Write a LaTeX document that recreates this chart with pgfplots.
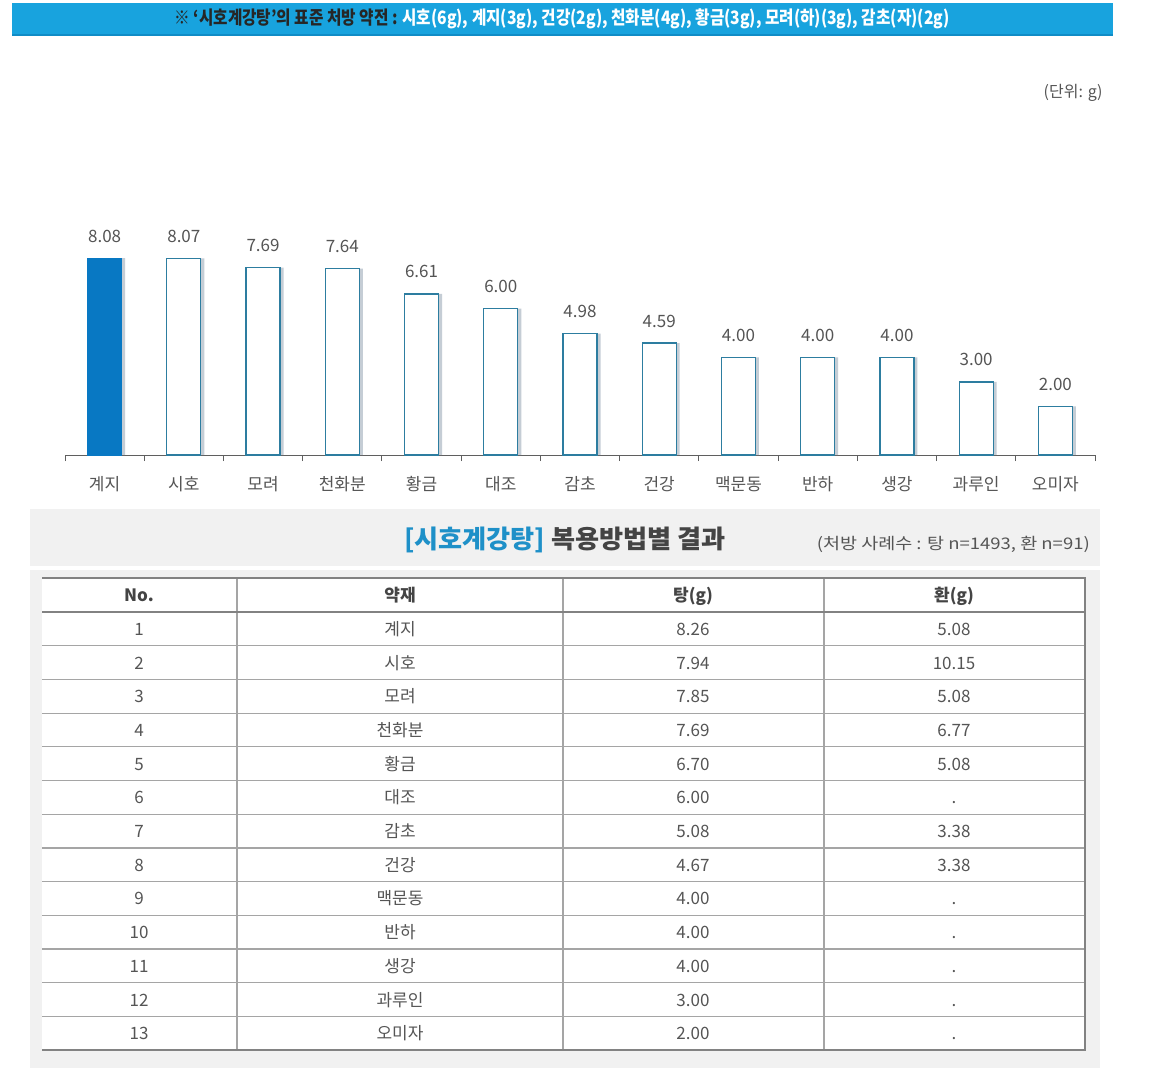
\documentclass[border=0pt]{standalone}
\usepackage{fontspec}
\setmainfont{Noto Sans CJK KR}
\usepackage{graphicx}
\usepackage{pgfplots}
\pgfplotsset{compat=1.18}

\definecolor{banner}{RGB}{24,163,222}
\definecolor{bannerdark}{RGB}{16,140,198}
\definecolor{bluebar}{RGB}{8,120,195}
\definecolor{bardraw}{RGB}{45,125,160}
\definecolor{shadow}{RGB}{150,165,180}
\definecolor{txt}{RGB}{85,85,85}
\definecolor{txtdark}{RGB}{68,68,68}
\definecolor{axisgray}{RGB}{95,95,95}
\definecolor{titleblue}{RGB}{30,144,200}
\definecolor{bggray}{RGB}{241,241,241}
\definecolor{linegray}{RGB}{130,130,130}
\definecolor{rowgray}{RGB}{165,165,165}

\begin{document}
\begin{tikzpicture}[x=1pt,y=1pt]
\path[use as bounding box, fill=white] (0,0) rectangle (1150,-1088);
% banner
\fill[banner] (12,-3) rectangle (1113,-35);
\fill[bannerdark] (12,-34) rectangle (1113,-36);
\node[anchor=center, inner sep=0pt] at (562,-19) {\resizebox{775pt}{\height}{\fontsize{18.5}{20}\selectfont\bfseries \color{black!85}※ ‘시호계강탕’의 표준 처방 약전 : \color{white}시호(6g), 계지(3g), 건강(2g), 천화분(4g), 황금(3g), 모려(하)(3g), 감초(자)(2g)}};
% unit
\node[anchor=east, text=txt, font=\fontsize{16}{18}\selectfont] at (1106,-93) {(단위: g)};

\begin{axis}[
  at={(65pt,-455pt)}, anchor=south west,
  scale only axis, width=1030pt, height=243.8pt,
  xmin=-0.5, xmax=12.5, ymin=0, ymax=10,
  clip=false,
  axis x line*=bottom, axis y line=none, ytick=\empty,
  x axis line style={draw=axisgray, line width=1pt, -},
  xtick={-0.5,0.5,...,12.5}, xticklabels={},
  tick align=outside, major tick length=6pt,
  x tick style={draw=axisgray, line width=1pt},
  extra x ticks={0,1,...,12},
  extra x tick labels={계지,시호,모려,천화분,황금,대조,감초,건강,맥문동,반하,생강,과루인,오미자},
  extra x tick style={major tick length=0pt},
  xticklabel style={font=\fontsize{17}{19}\selectfont, text=txt, anchor=center, yshift=-29pt},
  /pgf/number format/assume math mode=true,
]
\addplot[ybar, bar width=34pt, bar shift=3.5pt, fill=shadow, fill opacity=0.55, draw=none, forget plot]
  coordinates {(0,8.08)(1,8.07)(2,7.69)(3,7.64)(4,6.61)(5,6.00)(6,4.98)(7,4.59)(8,4.00)(9,4.00)(10,4.00)(11,3.00)(12,2.00)};
\addplot[ybar, bar width=34pt, bar shift=0pt, fill=bluebar, draw=bluebar, line width=1pt,
  nodes near coords={\pgfmathprintnumber[fixed,fixed zerofill,precision=2]{\pgfplotspointmeta}},
  nodes near coords style={font=\fontsize{17}{19}\selectfont, text=txt, anchor=center, yshift=22pt}]
  coordinates {(0,8.08)};
\addplot[ybar, bar width=34pt, bar shift=0pt, fill=white, draw=bardraw, line width=1.3pt,
  nodes near coords={\pgfmathprintnumber[fixed,fixed zerofill,precision=2]{\pgfplotspointmeta}},
  nodes near coords style={font=\fontsize{17}{19}\selectfont, text=txt, anchor=center, yshift=22pt}]
  coordinates {(1,8.07)(2,7.69)(3,7.64)(4,6.61)(5,6.00)(6,4.98)(7,4.59)(8,4.00)(9,4.00)(10,4.00)(11,3.00)(12,2.00)};
\end{axis}

% table section
\fill[bggray] (30,-509) rectangle (1100,-566);
\fill[bggray] (30,-570) rectangle (1100,-1068);
\fill[white] (42,-578) rectangle (1085,-1050);
\node[anchor=center, inner sep=0pt] at (565,-540) {\resizebox{322pt}{\height}{\fontsize{25.5}{28}\selectfont\bfseries\textcolor{titleblue}{[시호계강탕]} \textcolor{txtdark}{복용방법별 결과}}};
\node[anchor=east, inner sep=0pt, text=txt] at (1090,-544) {\resizebox{273pt}{\height}{\fontsize{16}{18}\selectfont(처방 사례수 : 탕 n=1493, 환 n=91)}};

\foreach \k in {1,...,12} \draw[rowgray, line width=1.2pt] (42,{-612-\k*33.7}) -- (1085,{-612-\k*33.7});
\foreach \xx in {237,563,824} \draw[rowgray, line width=1.2pt] (\xx,-578) -- (\xx,-1050);
\draw[linegray, line width=2pt] (42,-578) -- (1086,-578);
\draw[linegray, line width=2pt] (42,-612) -- (1085,-612);
\draw[linegray, line width=1.5pt] (42,-1050) -- (1086,-1050);
\draw[linegray, line width=2pt] (1085,-578) -- (1085,-1050);

\tikzset{cell/.style={anchor=center, text=txt, font=\fontsize{17}{19}\selectfont, text height=14pt, text depth=1pt}}
\foreach \xx/\hd in {139/No., 400/약재, 693/탕(g), 954/환(g)}
  \node[cell, text=txtdark, font=\fontsize{17}{19}\selectfont\bfseries] at (\xx,-595) {\hd};

\foreach \i/\n/\t/\h in {1/계지/8.26/5.08, 2/시호/7.94/10.15, 3/모려/7.85/5.08, 4/천화분/7.69/6.77, 5/황금/6.70/5.08, 6/대조/6.00/., 7/감초/5.08/3.38, 8/건강/4.67/3.38, 9/맥문동/4.00/., 10/반하/4.00/., 11/생강/4.00/., 12/과루인/3.00/., 13/오미자/2.00/.}{
  \node[cell] at (139,{-612-(\i-0.5)*33.7}) {\i};
  \node[cell] at (400,{-612-(\i-0.5)*33.7}) {\n};
  \node[cell] at (693,{-612-(\i-0.5)*33.7}) {\t};
  \node[cell] at (954,{-612-(\i-0.5)*33.7}) {\h};
}
\end{tikzpicture}
\end{document}
